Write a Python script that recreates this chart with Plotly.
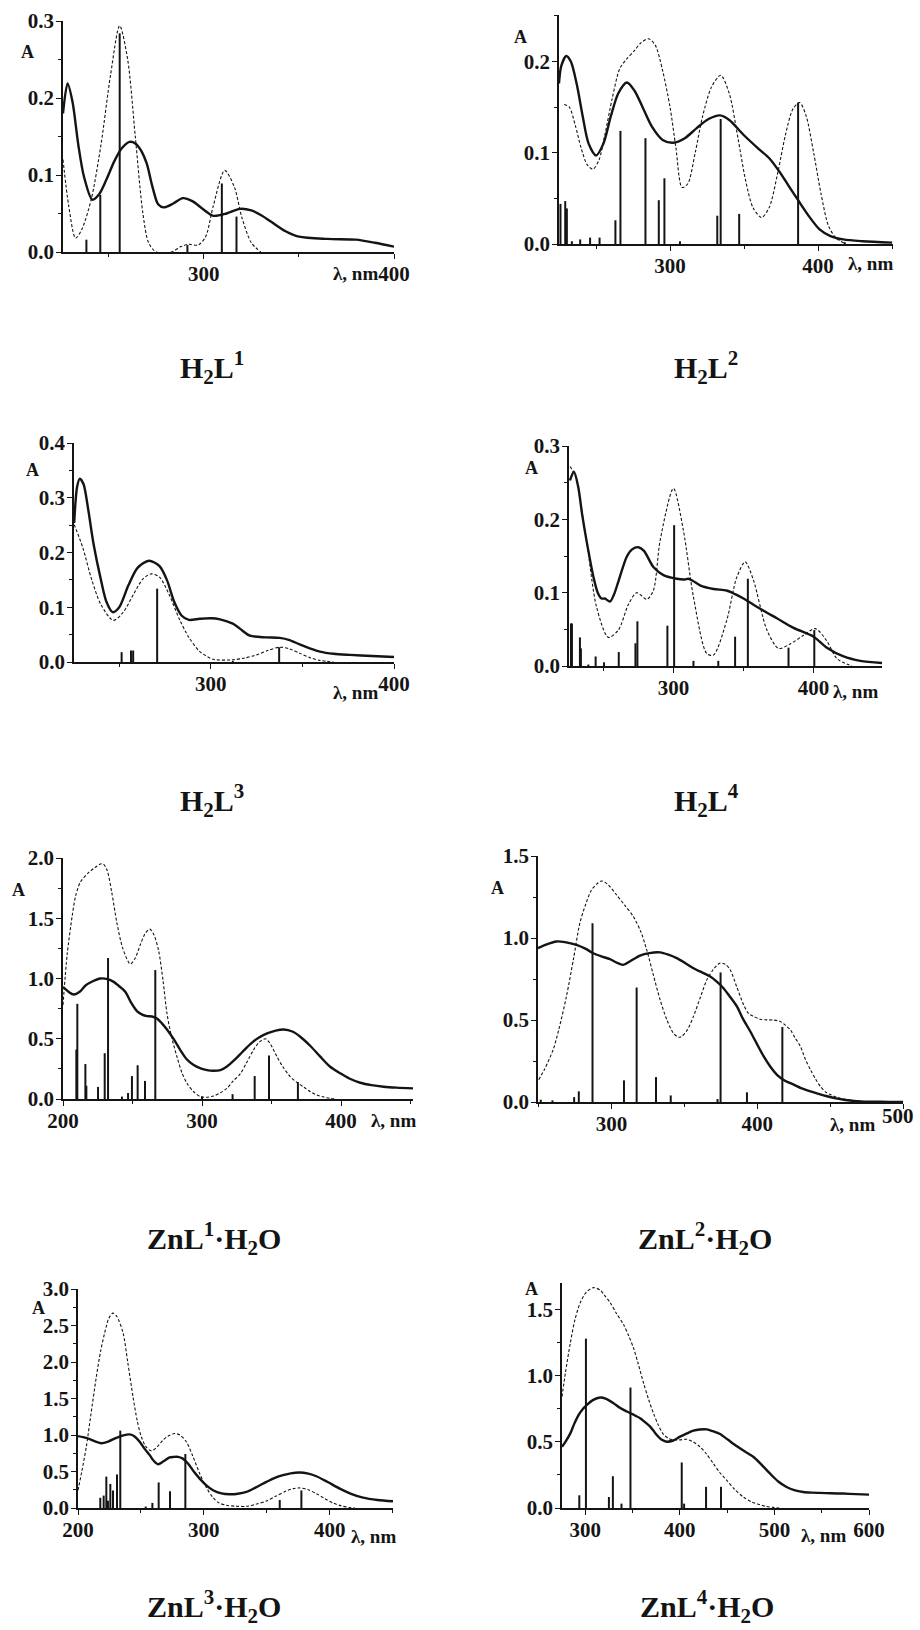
import plotly.graph_objects as go

W, H = 920, 1630
PAGE_OFFSET = 0  # body margin is removed by the post script below

# ---------------- data ----------------
# H2L1
H2L1_EXP_NM = [226, 228.4, 231, 234, 237, 241.4, 245, 249, 253, 257, 261, 264, 267, 270, 273, 276, 279, 284, 289, 294, 300, 305, 312, 319, 325, 330, 335, 343, 350, 365, 380, 390, 400]
H2L1_EXP_A = [0.180, 0.219, 0.195, 0.140, 0.098, 0.068, 0.075, 0.095, 0.118, 0.135, 0.143, 0.141, 0.132, 0.115, 0.085, 0.062, 0.058, 0.063, 0.070, 0.066, 0.055, 0.047, 0.050, 0.056, 0.054, 0.048, 0.040, 0.027, 0.020, 0.017, 0.016, 0.012, 0.007]
H2L1_CALC_NM = [226, 229, 232.6, 236, 241, 246, 251, 255.8, 260, 264, 268, 271, 275, 283, 288, 292, 297, 301, 305, 311, 316, 320, 325, 330]
H2L1_CALC_A = [0.120, 0.060, 0.018, 0.030, 0.070, 0.140, 0.230, 0.294, 0.250, 0.150, 0.050, 0.012, 0.0, 0.0, 0.007, 0.010, 0.009, 0.020, 0.060, 0.106, 0.085, 0.045, 0.012, 0.0]
H2L1_STICK_NM = [238.3, 245.6, 255.8, 291.4, 309.5, 317.2]
H2L1_STICK_F = [0.016, 0.074, 0.284, 0.009, 0.089, 0.046]

# H2L2
H2L2_EXP_NM = [225, 226.5, 229.9, 233, 237, 241, 245, 250, 255, 260, 265, 270.8, 276, 282, 288, 295, 302, 310, 318, 326, 333.7, 340, 349.4, 360, 367, 374, 380, 386.5, 394, 401, 408, 417, 430, 450]
H2L2_EXP_A = [0.176, 0.195, 0.206, 0.200, 0.175, 0.140, 0.110, 0.097, 0.110, 0.140, 0.165, 0.177, 0.168, 0.148, 0.128, 0.114, 0.111, 0.116, 0.127, 0.137, 0.141, 0.136, 0.120, 0.104, 0.094, 0.079, 0.064, 0.048, 0.030, 0.016, 0.009, 0.005, 0.003, 0.0015]
H2L2_CALC_NM = [228.5, 232, 236, 240, 244, 247.9, 252, 256, 261, 266, 270.8, 276, 280, 285.4, 290, 295, 300, 304, 308.1, 312, 317, 322, 328, 334.2, 340, 346, 351, 356, 361.8, 367, 373, 378, 383, 387.6, 392, 397, 402, 407, 412.4, 418]
H2L2_CALC_A = [0.153, 0.150, 0.130, 0.105, 0.087, 0.082, 0.092, 0.120, 0.160, 0.192, 0.203, 0.212, 0.220, 0.225, 0.218, 0.190, 0.150, 0.105, 0.062, 0.066, 0.100, 0.140, 0.172, 0.185, 0.165, 0.115, 0.070, 0.040, 0.029, 0.040, 0.080, 0.120, 0.148, 0.155, 0.140, 0.100, 0.055, 0.020, 0.006, 0.001]
H2L2_STICK_NM = [226, 229.2, 230.3, 233.7, 239.3, 246, 252.4, 263.1, 266.5, 283.4, 292.4, 296.2, 306.7, 331.9, 334.2, 346.7, 386.5, 418]
H2L2_STICK_F = [0.044, 0.047, 0.039, 0.003, 0.005, 0.007, 0.007, 0.026, 0.124, 0.116, 0.048, 0.072, 0.003, 0.031, 0.137, 0.033, 0.155, 0.002]

# H2L3
H2L3_EXP_NM = [225.4, 227, 228.5, 230.5, 233, 236, 240, 243, 246.4, 250, 255, 260, 266.2, 272, 276, 280, 284, 288, 294, 300, 305, 312, 317, 321.3, 330, 337.6, 343, 348.5, 354, 359.5, 367, 375.8, 388, 400]
H2L3_EXP_A = [0.254, 0.320, 0.335, 0.325, 0.280, 0.215, 0.150, 0.110, 0.091, 0.100, 0.140, 0.172, 0.185, 0.175, 0.150, 0.110, 0.085, 0.077, 0.079, 0.080, 0.078, 0.070, 0.058, 0.048, 0.045, 0.044, 0.040, 0.032, 0.025, 0.019, 0.015, 0.013, 0.011, 0.009]
H2L3_CALC_NM = [225.4, 230, 235, 240, 246.7, 252, 258, 263, 267.6, 272, 277, 283, 288, 294, 301.3, 312, 318, 325, 331, 337.6, 343, 348.5, 354, 359.5, 367]
H2L3_CALC_A = [0.251, 0.210, 0.150, 0.105, 0.076, 0.090, 0.125, 0.152, 0.161, 0.155, 0.125, 0.077, 0.045, 0.019, 0.005, 0.004, 0.007, 0.013, 0.021, 0.027, 0.024, 0.016, 0.008, 0.003, 0.0]
H2L3_STICK_NM = [251.3, 256.4, 257.6, 270.7, 312, 337.3]
H2L3_STICK_F = [0.018, 0.021, 0.021, 0.134, 0.002, 0.027]

# H2L4
H2L4_EXP_NM = [226.2, 229, 232, 235, 238, 243, 246, 248.8, 251, 254.8, 257.5, 260.7, 266.7, 270.5, 275, 279, 285.7, 292.9, 302.4, 308, 310.7, 314, 319, 328.6, 338, 344, 350, 361.9, 373.8, 385.7, 400, 409.5, 421.4, 433.3, 448.8]
H2L4_EXP_A = [0.253, 0.265, 0.245, 0.205, 0.171, 0.121, 0.100, 0.092, 0.092, 0.088, 0.097, 0.115, 0.149, 0.159, 0.162, 0.157, 0.135, 0.124, 0.119, 0.118, 0.119, 0.116, 0.110, 0.105, 0.103, 0.098, 0.092, 0.078, 0.065, 0.052, 0.040, 0.025, 0.013, 0.007, 0.004]
H2L4_CALC_NM = [226.2, 229.8, 238, 245.2, 253.6, 260.7, 267.9, 273.8, 281, 285.7, 290.5, 300, 307.1, 314.3, 323.8, 328.6, 338, 345.2, 351.2, 357.1, 366.7, 375, 383.3, 392.9, 401.2, 409.5, 416.7, 427.4]
H2L4_CALC_A = [0.272, 0.260, 0.171, 0.080, 0.039, 0.049, 0.084, 0.100, 0.091, 0.103, 0.171, 0.242, 0.185, 0.094, 0.017, 0.015, 0.062, 0.121, 0.142, 0.117, 0.049, 0.024, 0.030, 0.042, 0.051, 0.034, 0.010, 0.0]
H2L4_STICK_NM = [226.9, 227.6, 233.3, 234.0, 239.3, 244.5, 250.5, 261.0, 272.9, 274.3, 295.7, 300.5, 314.3, 332.0, 344.0, 353.1, 382.1, 400.5]
H2L4_STICK_F = [0.058, 0.058, 0.039, 0.024, 0.002, 0.013, 0.005, 0.019, 0.031, 0.061, 0.055, 0.192, 0.007, 0.007, 0.040, 0.119, 0.025, 0.049]

# ZnL1·H2O
ZNL1_EXP_NM = [200, 204, 207.7, 212, 216, 221, 226.9, 232, 236.5, 240, 244.8, 249, 253.2, 257, 260.4, 264, 267.6, 271, 274.8, 280, 284.4, 289, 294, 299, 303.6, 308, 313.2, 318, 322.8, 329, 334.8, 341, 346.8, 353, 358.8, 365, 370.7, 378, 385.1, 392, 399.5, 406, 413.9, 422, 430.7, 440, 451.8]
ZNL1_EXP_A = [0.93, 0.89, 0.867, 0.89, 0.94, 0.975, 1.0, 0.995, 0.972, 0.94, 0.89, 0.80, 0.73, 0.70, 0.688, 0.685, 0.668, 0.63, 0.577, 0.49, 0.406, 0.33, 0.282, 0.255, 0.24, 0.235, 0.24, 0.27, 0.318, 0.39, 0.456, 0.51, 0.544, 0.568, 0.577, 0.56, 0.517, 0.44, 0.351, 0.27, 0.213, 0.17, 0.135, 0.115, 0.102, 0.094, 0.088]
ZNL1_CALC_NM = [200, 203, 206.5, 209, 212.5, 218.5, 223, 226.9, 229, 231.7, 235, 238.8, 243, 248.4, 252, 255.6, 259, 262.4, 265.5, 268.8, 272, 274.8, 278, 282, 285.5, 289.2, 294, 298.8, 303, 308.4, 313, 318, 322.5, 327.6, 332, 337.2, 341, 345.6, 349, 354, 358, 363.5, 368, 373.1, 378, 382.7, 388, 392.3, 396]
ZNL1_CALC_A = [0.78, 1.2, 1.51, 1.68, 1.8, 1.88, 1.92, 1.95, 1.95, 1.9, 1.72, 1.46, 1.25, 1.12, 1.17, 1.28, 1.37, 1.41, 1.36, 1.23, 0.98, 0.71, 0.52, 0.35, 0.22, 0.13, 0.06, 0.02, 0.015, 0.025, 0.05, 0.09, 0.15, 0.21, 0.30, 0.41, 0.47, 0.50, 0.46, 0.35, 0.27, 0.185, 0.14, 0.10, 0.06, 0.033, 0.015, 0.005, 0.0]
ZNL1_STICK_NM = [209.6, 210.3, 216.1, 216.8, 225.2, 230, 232.4, 242.4, 246.8, 249.6, 253.7, 259, 266.4, 300, 322, 337.9, 348.2, 369]
ZNL1_STICK_F = [0.41, 0.79, 0.29, 0.11, 0.10, 0.38, 1.17, 0.02, 0.05, 0.19, 0.28, 0.15, 1.07, 0.02, 0.04, 0.19, 0.36, 0.14]

# ZnL2·H2O
ZNL2_EXP_NM = [249.5, 255, 262.2, 268, 275.9, 282, 287.4, 293, 298.9, 303, 308, 313, 319.5, 326, 333.3, 339, 344.7, 350, 356.2, 362, 367.7, 372, 376.8, 381, 386, 390, 395.2, 400, 404.4, 409, 413.5, 419, 425, 430, 436.5, 442, 447.9, 453, 459.4, 465, 470.9, 480, 490, 500]
ZNL2_EXP_A = [0.938, 0.96, 0.979, 0.975, 0.958, 0.935, 0.907, 0.888, 0.871, 0.852, 0.836, 0.86, 0.893, 0.908, 0.912, 0.898, 0.877, 0.85, 0.816, 0.79, 0.765, 0.735, 0.694, 0.645, 0.583, 0.51, 0.43, 0.35, 0.278, 0.215, 0.166, 0.13, 0.106, 0.085, 0.065, 0.05, 0.035, 0.024, 0.014, 0.008, 0.004, 0.002, 0.001, 0.0]
ZNL2_CALC_NM = [250, 254, 259.9, 264, 269, 274, 278.2, 282, 286.2, 290, 293.1, 297, 303.4, 309, 314.9, 320, 324.1, 328.5, 333.3, 338, 342.4, 346, 348.2, 352, 356.2, 361, 365.4, 370, 374.5, 378, 381.4, 386, 390.6, 394, 397.5, 402, 406.7, 411, 415.8, 419, 422.7, 426, 429.6, 433, 436.5, 440, 443.3, 447, 450.2, 455, 459.4, 465, 470.9, 480]
ZNL2_CALC_A = [0.136, 0.2, 0.319, 0.45, 0.643, 0.88, 1.09, 1.2, 1.293, 1.33, 1.348, 1.33, 1.263, 1.2, 1.131, 1.04, 0.928, 0.78, 0.623, 0.5, 0.42, 0.395, 0.4, 0.44, 0.522, 0.64, 0.745, 0.81, 0.847, 0.84, 0.806, 0.7, 0.593, 0.54, 0.522, 0.505, 0.501, 0.5, 0.491, 0.47, 0.44, 0.39, 0.339, 0.26, 0.197, 0.14, 0.095, 0.06, 0.045, 0.028, 0.018, 0.009, 0.004, 0.0]
ZNL2_STICK_NM = [251.4, 259.4, 274.3, 277.5, 286.9, 308.5, 317.2, 330.5, 340.6, 372.7, 374.8, 392.9, 417.2]
ZNL2_STICK_F = [0.014, 0.01, 0.03, 0.065, 1.09, 0.132, 0.698, 0.152, 0.04, 0.018, 0.79, 0.059, 0.457]

# ZnL3·H2O
ZNL3_EXP_NM = [200, 204, 209.3, 214, 218.5, 224, 230.5, 236, 241.1, 245, 249, 253, 257, 260, 263.6, 268, 272.8, 276, 279.5, 283, 287.4, 292, 296.7, 302, 307.3, 314, 320.5, 327, 333.8, 341, 349.7, 356, 362.9, 369, 376.2, 383, 389.4, 398, 408, 417, 426.5, 438, 450.3]
ZNL3_EXP_A = [0.985, 0.97, 0.944, 0.91, 0.888, 0.91, 0.962, 0.995, 1.008, 0.98, 0.907, 0.81, 0.724, 0.65, 0.60, 0.64, 0.692, 0.70, 0.701, 0.68, 0.609, 0.50, 0.403, 0.31, 0.243, 0.20, 0.188, 0.195, 0.22, 0.28, 0.357, 0.41, 0.449, 0.475, 0.486, 0.47, 0.435, 0.36, 0.266, 0.195, 0.142, 0.11, 0.092]
ZNL3_CALC_NM = [200, 203, 206.6, 210, 214.6, 218, 221.2, 224.5, 227.8, 231, 235.8, 239.5, 243.7, 247, 250.3, 254, 258.3, 263, 267.5, 272, 276.8, 281, 286.1, 291, 296.7, 302, 307.3, 312, 317.9, 325, 333.8, 341, 349.7, 357, 365.6, 371, 376.2, 383, 389.4, 396, 402.6, 409, 415.9, 420]
ZNL3_CALC_A = [0.243, 0.5, 0.838, 1.25, 1.8, 2.15, 2.4, 2.6, 2.67, 2.62, 2.4, 2.0, 1.525, 1.2, 0.976, 0.84, 0.783, 0.84, 0.93, 0.99, 1.02, 1.0, 0.907, 0.72, 0.472, 0.28, 0.142, 0.07, 0.037, 0.025, 0.023, 0.05, 0.096, 0.16, 0.234, 0.265, 0.275, 0.25, 0.197, 0.13, 0.069, 0.03, 0.005, 0.0]
ZNL3_STICK_NM = [217.7, 220.4, 222.5, 223.8, 225.7, 227.8, 231, 233.6, 253.8, 259.1, 264.1, 273.1, 285.3, 360.3, 377.5]
ZNL3_STICK_F = [0.14, 0.17, 0.43, 0.10, 0.33, 0.24, 0.46, 1.06, 0.02, 0.07, 0.35, 0.23, 0.74, 0.11, 0.24]

# ZnL4·H2O
ZNL4_EXP_NM = [275.4, 279, 284.2, 288, 293, 297, 301.8, 308, 315.8, 322, 329.9, 337, 344, 351, 358, 363, 368.6, 372, 375.6, 380, 386.2, 393, 400.2, 407, 414.3, 421, 428.4, 435, 442.5, 451, 460, 468, 477.6, 486, 495.2, 504, 512.8, 521, 530.4, 540, 548, 560, 572.6, 586, 600]
ZNL4_EXP_A = [0.463, 0.50, 0.564, 0.63, 0.703, 0.745, 0.779, 0.815, 0.835, 0.825, 0.792, 0.755, 0.729, 0.705, 0.678, 0.65, 0.615, 0.585, 0.551, 0.52, 0.501, 0.51, 0.539, 0.562, 0.584, 0.593, 0.594, 0.58, 0.559, 0.515, 0.468, 0.43, 0.387, 0.33, 0.261, 0.20, 0.159, 0.135, 0.121, 0.116, 0.114, 0.111, 0.109, 0.105, 0.101]
ZNL4_CALC_NM = [275.4, 279, 284.2, 289, 294.7, 301, 308.8, 316, 320, 326.4, 333, 340.5, 346, 351, 356, 361.6, 367, 372.1, 377, 382.7, 388, 393.2, 400, 407.3, 414, 421.3, 428, 435.4, 442, 449.5, 458, 467.1, 476, 484.7, 491, 498.7, 505]
ZNL4_CALC_A = [0.842, 1.02, 1.247, 1.42, 1.551, 1.63, 1.665, 1.645, 1.61, 1.551, 1.47, 1.386, 1.30, 1.209, 1.09, 0.944, 0.82, 0.716, 0.63, 0.557, 0.525, 0.514, 0.515, 0.519, 0.50, 0.463, 0.41, 0.336, 0.27, 0.21, 0.14, 0.083, 0.045, 0.025, 0.012, 0.005, 0.0]
ZNL4_STICK_NM = [293.7, 300.7, 325, 329.2, 338.3, 347.8, 402, 404.5, 427.7, 443.5]
ZNL4_STICK_F = [0.096, 1.28, 0.083, 0.24, 0.033, 0.91, 0.344, 0.033, 0.16, 0.16]

# tick labels
TICKS_X_A = [300, 400]
TICKS_X_B = [200, 300, 400]
TICKS_X_C = [300, 400, 500]
TICKS_X_D = [300, 400, 500, 600]
TICKS_Y_01 = [0.0, 0.1, 0.2, 0.3, 0.4]
TICKS_Y_05 = [0.0, 0.5, 1.0, 1.5, 2.0, 2.5, 3.0]

TITLES = ["H<sub>2</sub>L<sup>1</sup>", "H<sub>2</sub>L<sup>2</sup>",
          "H<sub>2</sub>L<sup>3</sup>", "H<sub>2</sub>L<sup>4</sup>",
          "ZnL<sup>1</sup>·H<sub>2</sub>O", "ZnL<sup>2</sup>·H<sub>2</sub>O",
          "ZnL<sup>3</sup>·H<sub>2</sub>O", "ZnL<sup>4</sup>·H<sub>2</sub>O"]

# ---------------- layout (page-pixel boxes) ----------------
PANELS = [
    dict(data=(H2L1_EXP_NM, H2L1_EXP_A, H2L1_CALC_NM, H2L1_CALC_A, H2L1_STICK_NM, H2L1_STICK_F),
         box=(63, 394, 21, 252), xr=(226, 400), yr=(0, 0.3), xt=TICKS_X_A, yt=TICKS_Y_01[:4], ydt=0.1,
         title=(212, 367), A=(27, 52), lam=(355, 273), edge=None),
    dict(data=(H2L2_EXP_NM, H2L2_EXP_A, H2L2_CALC_NM, H2L2_CALC_A, H2L2_STICK_NM, H2L2_STICK_F),
         box=(559, 893, 15, 244), xr=(225, 450.6), yr=(0, 0.251), xt=TICKS_X_A, yt=TICKS_Y_01[:3], ydt=0.1,
         title=(706, 367), A=(520, 37), lam=(870, 264), edge=None),
    dict(data=(H2L3_EXP_NM, H2L3_EXP_A, H2L3_CALC_NM, H2L3_CALC_A, H2L3_STICK_NM, H2L3_STICK_F),
         box=(74, 394, 443, 662), xr=(225.3, 400), yr=(0, 0.4), xt=TICKS_X_A, yt=TICKS_Y_01, ydt=0.1,
         title=(212, 800), A=(32, 470), lam=(355, 692), edge=None),
    dict(data=(H2L4_EXP_NM, H2L4_EXP_A, H2L4_CALC_NM, H2L4_CALC_A, H2L4_STICK_NM, H2L4_STICK_F),
         box=(569, 882, 446, 666), xr=(225.5, 448.8), yr=(0, 0.3), xt=TICKS_X_A, yt=TICKS_Y_01[:4], ydt=0.1,
         title=(706, 800), A=(531, 468), lam=(855, 691), edge=None),
    dict(data=(ZNL1_EXP_NM, ZNL1_EXP_A, ZNL1_CALC_NM, ZNL1_CALC_A, ZNL1_STICK_NM, ZNL1_STICK_F),
         box=(63, 413, 858, 1099), xr=(200, 451.8), yr=(0, 2.0), xt=TICKS_X_B, yt=TICKS_Y_05[:5], ydt=0.5,
         title=(214, 1238), A=(18, 890), lam=(393, 1120), edge=None),
    dict(data=(ZNL2_EXP_NM, ZNL2_EXP_A, ZNL2_CALC_NM, ZNL2_CALC_A, ZNL2_STICK_NM, ZNL2_STICK_F),
         box=(538, 903, 856, 1102), xr=(249.5, 500), yr=(0, 1.5), xt=TICKS_X_C, yt=TICKS_Y_05[:4], ydt=0.5,
         title=(705, 1238), A=(497, 888), lam=(852, 1124), edge=(898, 1116)),
    dict(data=(ZNL3_EXP_NM, ZNL3_EXP_A, ZNL3_CALC_NM, ZNL3_CALC_A, ZNL3_STICK_NM, ZNL3_STICK_F),
         box=(78, 393, 1289, 1508), xr=(200, 450.3), yr=(0, 3.0), xt=TICKS_X_B, yt=TICKS_Y_05, ydt=0.5,
         title=(214, 1606), A=(38, 1308), lam=(373, 1536), edge=None),
    dict(data=(ZNL4_EXP_NM, ZNL4_EXP_A, ZNL4_CALC_NM, ZNL4_CALC_A, ZNL4_STICK_NM, ZNL4_STICK_F),
         box=(562, 869, 1283, 1508), xr=(275.4, 600), yr=(0, 1.70), xt=TICKS_X_D, yt=TICKS_Y_05[:4], ydt=0.5,
         title=(707, 1606), A=(531, 1289), lam=(823, 1535), edge=None),
]

FONT = "Liberation Serif"
INK = "#141414"
TICK_FONT = dict(family=FONT, size=21, color=INK, weight="bold")


def px_x(v):
    return (v - PAGE_OFFSET) / W


def px_y(v):
    return 1 - (v - PAGE_OFFSET) / H


fig = go.Figure()
annotations = []

for i, p in enumerate(PANELS):
    n = i + 1
    xa = "x" if n == 1 else f"x{n}"
    ya = "y" if n == 1 else f"y{n}"
    ex, ey, cx, cy, sx, sf = p["data"]
    stx, sty = [], []
    for w, f in zip(sx, sf):
        stx += [w, w, None]
        sty += [0, f, None]
    fig.add_trace(go.Scatter(x=stx, y=sty, mode="lines", xaxis=xa, yaxis=ya,
                             line=dict(color=INK, width=2), hoverinfo="skip", showlegend=False))
    fig.add_trace(go.Scatter(x=cx, y=cy, mode="lines", xaxis=xa, yaxis=ya,
                             line=dict(color=INK, width=1.1, dash="3px,2px", shape="spline", smoothing=0.8),
                             showlegend=False))
    fig.add_trace(go.Scatter(x=ex, y=ey, mode="lines", xaxis=xa, yaxis=ya,
                             line=dict(color=INK, width=2.4, shape="spline", smoothing=0.8),
                             showlegend=False))

    l, r, t, b = p["box"]
    xkey = "xaxis" if n == 1 else f"xaxis{n}"
    ykey = "yaxis" if n == 1 else f"yaxis{n}"
    xt = p["xt"]
    yt = p["yt"]
    xtext = [str(v) for v in xt]
    if p["edge"] is not None:
        ex_px, ey_px = p["edge"]
        annotations.append(dict(x=px_x(ex_px), y=px_y(ey_px), xref="paper", yref="paper", text=xtext[-1],
                                showarrow=False, xanchor="center", yanchor="middle", font=TICK_FONT))
        xtext[-1] = ""
    xmin = [v + 50 for v in [100, 200, 300, 400, 500]]
    fig.layout[xkey] = dict(
        domain=[px_x(l), px_x(r)], anchor=ya, range=list(p["xr"]), automargin=False,
        tickmode="array", tickvals=xt, ticktext=xtext,
        showline=True, linecolor=INK, linewidth=1.5, mirror=False,
        ticks="outside", ticklen=5, tickwidth=1.3, tickcolor=INK, ticklabelstandoff=-3,
        minor=dict(tickmode="array", tickvals=xmin, ticks="outside", ticklen=3, tickwidth=1, tickcolor=INK),
        showgrid=False, zeroline=False,
        tickfont=TICK_FONT,
    )
    dt = p["ydt"]
    ymin = [v + dt / 2 for v in yt]
    fig.layout[ykey] = dict(
        domain=[px_y(b), px_y(t)], anchor=xa, range=list(p["yr"]), automargin=False,
        tickmode="array", tickvals=yt, ticktext=[f"{v:.1f}" for v in yt],
        showline=True, linecolor=INK, linewidth=1.5, mirror=False,
        ticks="outside", ticklen=5, tickwidth=1.3, tickcolor=INK, ticklabelstandoff=-2,
        minor=dict(tickmode="array", tickvals=ymin, ticks="outside", ticklen=3, tickwidth=1, tickcolor=INK),
        showgrid=False, zeroline=False,
        tickfont=TICK_FONT,
    )

    tx, ty = p["title"]
    annotations.append(dict(x=px_x(tx), y=px_y(ty), xref="paper", yref="paper", text=TITLES[i],
                            showarrow=False, xanchor="center", yanchor="middle",
                            font=dict(family=FONT, size=30, color=INK, weight="bold")))
    ax_, ay_ = p["A"]
    annotations.append(dict(x=px_x(ax_), y=px_y(ay_), xref="paper", yref="paper", text="A",
                            showarrow=False, xanchor="center", yanchor="middle",
                            font=dict(family=FONT, size=18, color=INK, weight="bold")))
    lx, ly = p["lam"]
    annotations.append(dict(x=px_x(lx), y=px_y(ly), xref="paper", yref="paper", text="λ, nm",
                            showarrow=False, xanchor="center", yanchor="middle",
                            font=dict(family=FONT, size=19, color=INK, weight="bold")))

fig.update_layout(
    width=W, height=H, margin=dict(l=0, r=0, t=0, b=0),
    paper_bgcolor="white", plot_bgcolor="white",
    annotations=annotations, showlegend=False,
)

fig.write_html("out.html", config={"displayModeBar": False},
               post_script="document.body.style.margin='0';document.body.style.overflow='hidden';")
